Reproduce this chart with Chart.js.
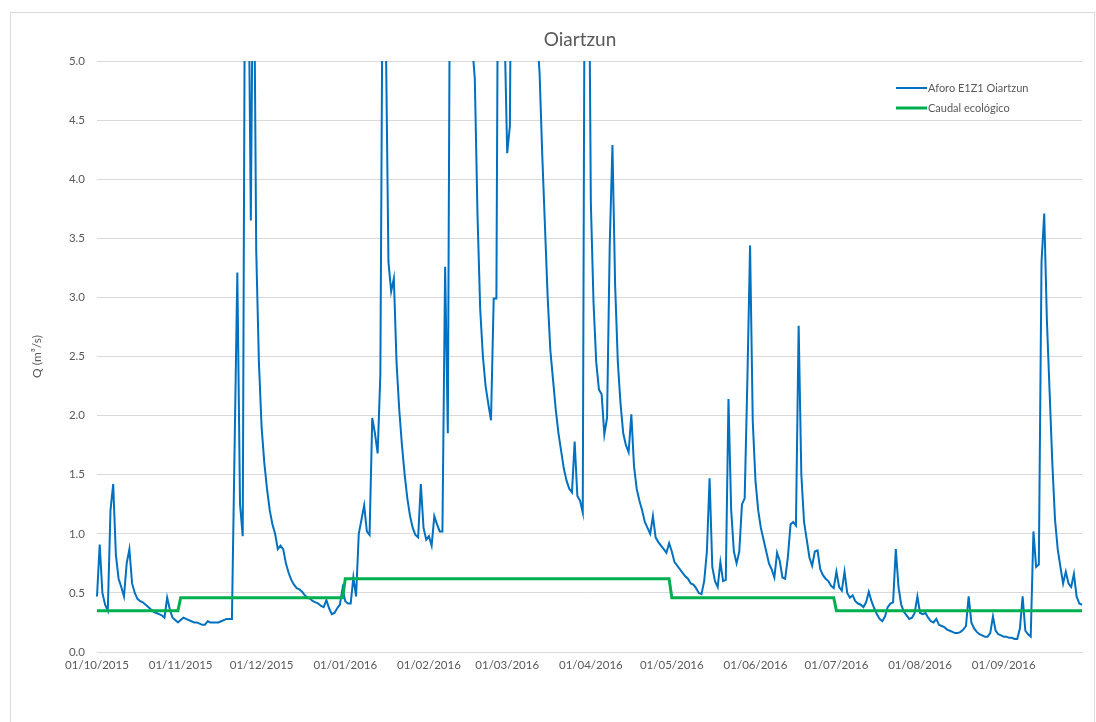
<!DOCTYPE html>
<html>
<head>
<meta charset="utf-8">
<script src="https://cdn.jsdelivr.net/npm/chart.js@4.4.0/dist/chart.umd.min.js"></script>
<style>
  html, body { margin: 0; padding: 0; background: #fff; overflow: hidden; }
  #marco { position: absolute; left: 10px; top: 12px; width: 1083px; height: 720px; border: 1px solid #d9d9d9; }
  #myChart { position: absolute; left: 0; top: 0; }
</style>
</head>
<body>
<div id="marco"></div>
<canvas id="myChart" width="1096" height="722"></canvas>
<script>
const titulo = "Oiartzun";
const tituloEjeY = "Q (m³/s)";
const nombreAforo = "Aforo E1Z1 Oiartzun";
const nombreEcologico = "Caudal ecológico";

// caudal diario medido (m3/s), 01/10/2015 - 30/09/2016, un mes por línea
const caudalOct = [0.47, 0.91, 0.50, 0.40, 0.35, 1.20, 1.42, 0.82, 0.62, 0.55, 0.47, 0.75, 0.87, 0.58, 0.50, 0.45, 0.43, 0.42, 0.40, 0.38, 0.36, 0.34, 0.33, 0.32, 0.31, 0.29, 0.46, 0.36, 0.29, 0.27, 0.25];
const caudalNov = [0.27, 0.29, 0.28, 0.27, 0.26, 0.25, 0.25, 0.24, 0.23, 0.23, 0.26, 0.25, 0.25, 0.25, 0.25, 0.26, 0.27, 0.28, 0.28, 0.28, 1.75, 3.21, 1.25, 0.98, 7.0, 6.2, 3.65, 6.5, 3.4, 2.45];
const caudalDic = [1.90, 1.60, 1.38, 1.20, 1.08, 1.00, 0.87, 0.90, 0.87, 0.75, 0.67, 0.61, 0.57, 0.54, 0.53, 0.51, 0.48, 0.46, 0.45, 0.43, 0.42, 0.41, 0.39, 0.38, 0.44, 0.37, 0.32, 0.33, 0.37, 0.40, 0.54];
const caudalEne = [0.43, 0.41, 0.41, 0.63, 0.47, 1.00, 1.12, 1.24, 1.02, 0.99, 1.98, 1.85, 1.68, 2.35, 6.5, 5.3, 3.30, 3.05, 3.16, 2.45, 2.05, 1.75, 1.50, 1.30, 1.15, 1.05, 0.99, 0.97, 1.42, 1.05, 0.95];
const caudalFeb = [0.98, 0.90, 1.15, 1.08, 1.02, 1.02, 3.26, 1.85, 7.0, 9.5, 11.0, 10.0, 9.0, 8.0, 7.0, 6.0, 5.15, 4.85, 3.70, 2.90, 2.50, 2.25, 2.10, 1.96, 2.99, 2.99, 8.0, 7.0, 5.3];
const caudalMar = [4.22, 4.45, 8.0, 10.0, 9.0, 8.0, 7.2, 6.6, 6.1, 5.8, 5.5, 5.25, 4.9, 4.20, 3.60, 3.00, 2.55, 2.30, 2.05, 1.85, 1.70, 1.55, 1.45, 1.38, 1.35, 1.78, 1.32, 1.28, 1.18, 8.0, 7.0];
const caudalAbr = [3.80, 2.95, 2.45, 2.22, 2.18, 1.84, 1.98, 3.45, 4.29, 3.10, 2.45, 2.10, 1.85, 1.75, 1.69, 2.01, 1.57, 1.38, 1.28, 1.20, 1.10, 1.05, 1.00, 1.15, 0.97, 0.93, 0.90, 0.87, 0.84, 0.92];
const caudalMay = [0.85, 0.76, 0.73, 0.70, 0.67, 0.64, 0.62, 0.58, 0.57, 0.54, 0.50, 0.49, 0.60, 0.85, 1.47, 0.72, 0.60, 0.55, 0.76, 0.60, 0.61, 2.14, 1.20, 0.85, 0.75, 0.85, 1.25, 1.30, 2.30, 3.44, 1.95];
const caudalJun = [1.45, 1.20, 1.05, 0.95, 0.85, 0.75, 0.70, 0.63, 0.84, 0.77, 0.63, 0.62, 0.80, 1.08, 1.10, 1.07, 2.76, 1.50, 1.10, 0.95, 0.80, 0.73, 0.85, 0.86, 0.70, 0.65, 0.62, 0.60, 0.56, 0.54];
const caudalJul = [0.68, 0.55, 0.52, 0.68, 0.50, 0.46, 0.48, 0.43, 0.41, 0.40, 0.38, 0.42, 0.51, 0.43, 0.37, 0.32, 0.28, 0.26, 0.30, 0.38, 0.41, 0.42, 0.87, 0.55, 0.40, 0.34, 0.31, 0.28, 0.29, 0.33, 0.47];
const caudalAgo = [0.33, 0.32, 0.33, 0.29, 0.26, 0.25, 0.28, 0.23, 0.22, 0.21, 0.19, 0.18, 0.17, 0.16, 0.16, 0.17, 0.19, 0.22, 0.47, 0.25, 0.20, 0.17, 0.15, 0.14, 0.13, 0.13, 0.16, 0.30, 0.18, 0.15, 0.14];
const caudalSep = [0.13, 0.13, 0.12, 0.12, 0.11, 0.11, 0.20, 0.47, 0.18, 0.15, 0.13, 1.02, 0.72, 0.74, 3.30, 3.71, 2.80, 2.20, 1.60, 1.12, 0.87, 0.72, 0.58, 0.68, 0.58, 0.55, 0.66, 0.47, 0.41, 0.40];

// caudal ecológico por mes, de octubre a septiembre
const caudalEcologicoMes = [0.35, 0.46, 0.46, 0.62, 0.62, 0.62, 0.62, 0.46, 0.46, 0.35, 0.35, 0.35];

const ejeYTicks = [0, 0.5, 1, 1.5, 2, 2.5, 3, 3.5, 4, 4.5, 5];

const caudalAforo = [].concat(caudalOct, caudalNov, caudalDic, caudalEne, caudalFeb, caudalMar,
  caudalAbr, caudalMay, caudalJun, caudalJul, caudalAgo, caudalSep);

// etiquetas de fecha (dd/mm/aaaa) y caudal ecológico de cada día
const fechas = [];
const caudalEcologico = [];
const inicio = new Date(2015, 9, 1);
caudalAforo.forEach((v, i) => {
  const d = new Date(inicio.getFullYear(), inicio.getMonth(), inicio.getDate() + i);
  const dd = ("0" + d.getDate()).slice(-2);
  const mm = ("0" + (d.getMonth() + 1)).slice(-2);
  fechas.push(`${dd}/${mm}/${d.getFullYear()}`);
  caudalEcologico.push(caudalEcologicoMes[(d.getMonth() + 3) % 12]);
});

const gris = "#595959";
const fuente = "Lato";

// titulo y leyenda dibujados encima del grafico
const textos = {
  id: "textos",
  afterDraw(chart) {
    const ctx = chart.ctx;
    ctx.save();
    ctx.fillStyle = gris;
    ctx.textBaseline = "middle";
    ctx.textAlign = "center";
    ctx.font = `19px ${fuente}`;
    ctx.fillText(titulo, 580, 40);

    ctx.textAlign = "left";
    ctx.font = `11px ${fuente}`;
    ctx.lineWidth = 2;
    ctx.strokeStyle = "#0070C0";
    ctx.beginPath();
    ctx.moveTo(896, 88);
    ctx.lineTo(927, 88);
    ctx.stroke();
    ctx.fillText(nombreAforo, 928, 88);

    ctx.lineWidth = 3;
    ctx.strokeStyle = "#00B050";
    ctx.beginPath();
    ctx.moveTo(896, 108);
    ctx.lineTo(927, 108);
    ctx.stroke();
    ctx.fillText(nombreEcologico, 928, 108);
    ctx.restore();
  },
};

const config = {
  type: "line",
  data: {
    labels: fechas,
    datasets: [
      {
        label: nombreAforo,
        data: caudalAforo,
        borderColor: "#0070C0",
        borderWidth: 2,
        pointRadius: 0,
        tension: 0,
        fill: false,
        order: 1,
      },
      {
        label: nombreEcologico,
        data: caudalEcologico,
        borderColor: "#00B050",
        borderWidth: 3,
        pointRadius: 0,
        tension: 0,
        fill: false,
        order: 0,
      },
    ],
  },
  options: {
    responsive: false,
    animation: false,
    layout: { padding: { top: 61, right: 14, bottom: 0, left: 0 } },
    plugins: {
      legend: { display: false },
      tooltip: { enabled: false },
    },
    scales: {
      x: {
        grid: { display: false, drawTicks: false },
        border: { display: true, color: "#d9d9d9", width: 1 },
        ticks: {
          autoSkip: false,
          maxRotation: 0,
          minRotation: 0,
          padding: 6,
          color: gris,
          font: { family: fuente, size: 11.5 },
          callback: function (value) {
            const l = this.getLabelForValue(value);
            return l.startsWith("01/") ? l : "";
          },
        },
        afterFit: (scale) => {
          scale.height = 70;
        },
      },
      y: {
        min: 0,
        max: 5,
        afterBuildTicks: (scale) => {
          scale.ticks = ejeYTicks.map((v) => ({ value: v }));
        },
        ticks: {
          padding: 12,
          color: gris,
          font: { family: fuente, size: 11.5 },
          callback: (v) => v.toFixed(1),
        },
        grid: { color: "#d9d9d9", drawTicks: false },
        border: { display: false },
        title: {
          display: true,
          text: tituloEjeY,
          color: gris,
          font: { family: fuente, size: 12 },
          padding: { top: 30, bottom: 0 },
        },
        afterFit: (scale) => {
          scale.width = 97;
        },
      },
    },
  },
  plugins: [textos],
};

const myChart = new Chart(document.getElementById("myChart"), config);
</script>
</body>
</html>
